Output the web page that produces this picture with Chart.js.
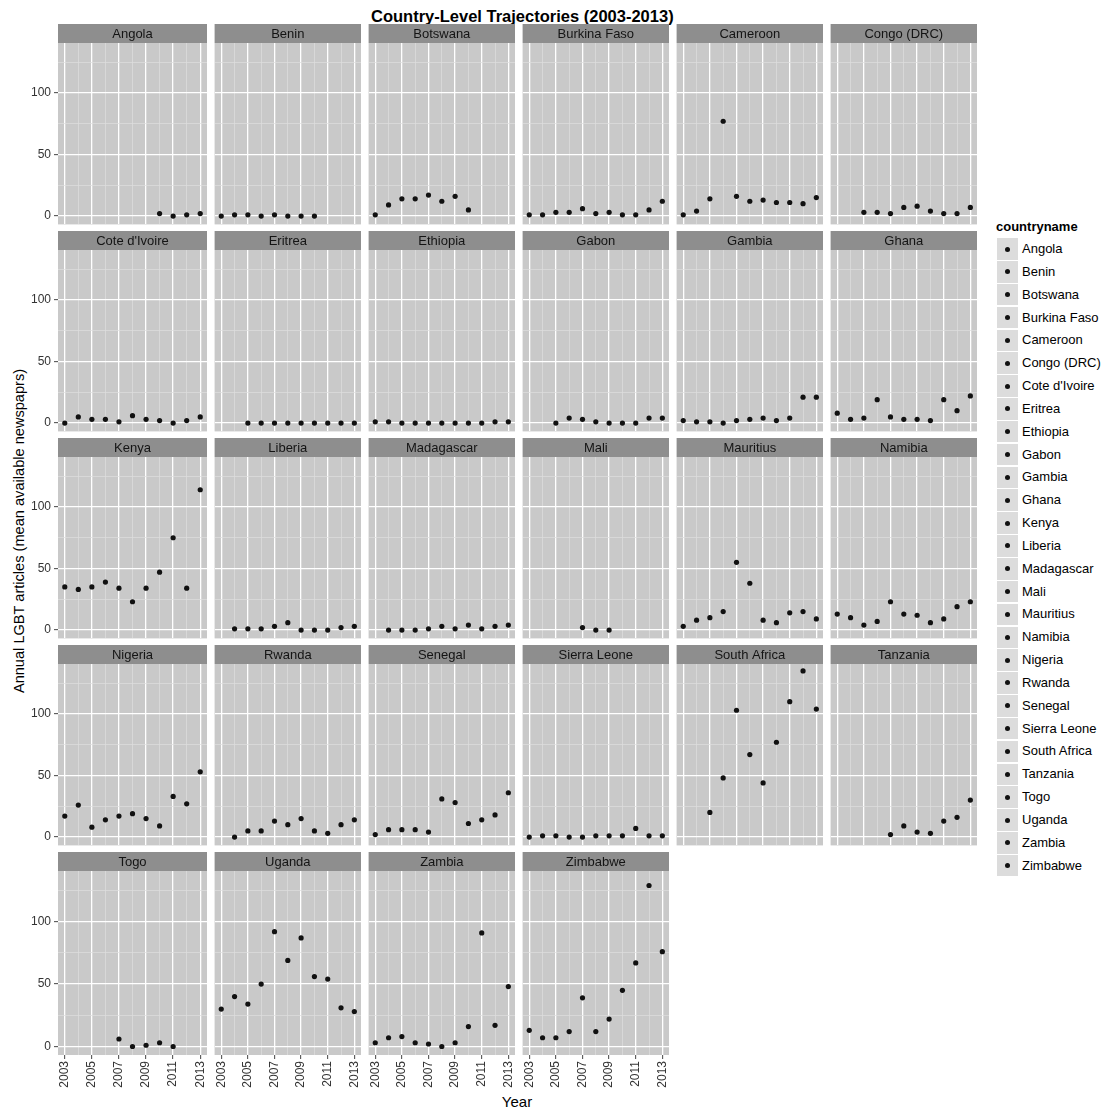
<!DOCTYPE html>
<html><head><meta charset="utf-8">
<script src="https://cdn.jsdelivr.net/npm/chart.js@4.4.0/dist/chart.umd.min.js"></script>
<style>
html,body{margin:0;padding:0;background:#fff;}
body{width:1105px;height:1110px;position:relative;overflow:hidden;font-family:"Liberation Sans",Arimo,Arial,sans-serif;color:#000;}
canvas.cv{position:absolute;}
#title{position:absolute;left:371px;width:300px;top:6px;line-height:20px;text-align:center;font-weight:bold;font-size:16.5px;white-space:nowrap;}
#ytitle{position:absolute;left:19px;top:531px;transform:translate(-50%,-50%) rotate(-90deg);white-space:nowrap;font-size:14.6px;line-height:18px;}
#xtitle{position:absolute;left:467px;width:100px;top:1092px;text-align:center;font-size:15px;line-height:20px;}
#legtitle{position:absolute;left:996px;top:219px;font-weight:bold;font-size:13px;line-height:16px;}
.lkey{position:absolute;left:997px;width:21px;height:21.5px;background:#dcdcdc;}
.ldot{position:absolute;left:8px;top:8.25px;width:5px;height:5px;border-radius:50%;background:#111;}
.llab{position:absolute;left:1022px;font-size:13px;line-height:16px;white-space:nowrap;}
</style>
</head><body>
<div id="title">Country-Level Trajectories (2003-2013)</div>
<div id="ytitle">Annual LGBT articles (mean available newspaprs)</div>
<div id="xtitle">Year</div>
<div id="legtitle">countryname</div>
<script>
// ---- data (years 2003..2013; null = no observation) ----
const years = [2003,2004,2005,2006,2007,2008,2009,2010,2011,2012,2013];
const xTickLabels = [2003,2005,2007,2009,2011,2013];
const yTickLabels = [0,50,100];
const countries = ["Angola","Benin","Botswana","Burkina Faso","Cameroon","Congo (DRC)",
  "Cote d'Ivoire","Eritrea","Ethiopia","Gabon","Gambia","Ghana",
  "Kenya","Liberia","Madagascar","Mali","Mauritius","Namibia",
  "Nigeria","Rwanda","Senegal","Sierra Leone","South Africa","Tanzania",
  "Togo","Uganda","Zambia","Zimbabwe"];
const angola      = [null,null,null,null,null,null,null,2,0,1,2];
const benin       = [0,1,1,0,1,0,0,0,null,null,null];
const botswana    = [1,9,14,14,17,12,16,5,null,null,null];
const burkinaFaso = [1,1,3,3,6,2,3,1,1,5,12];
const cameroon    = [1,4,14,77,16,12,13,11,11,10,15];
const congoDRC    = [null,null,3,3,2,7,8,4,2,2,7];
const coteDIvoire = [0,5,3,3,1,6,3,2,0,2,5];
const eritrea     = [null,null,0,0,0,0,0,0,0,0,0];
const ethiopia    = [1,1,0,0,0,0,0,0,0,1,1];
const gabon       = [null,null,0,4,3,1,0,0,0,4,4];
const gambia      = [2,1,1,0,2,3,4,2,4,21,21];
const ghana       = [8,3,4,19,5,3,3,2,19,10,22];
const kenya       = [35,33,35,39,34,23,34,47,75,34,114];
const liberia     = [null,1,1,1,3,6,0,0,0,2,3];
const madagascar  = [null,0,0,0,1,3,1,4,1,3,4];
const mali        = [null,null,null,null,2,0,0,null,null,null,null];
const mauritius   = [3,8,10,15,55,38,8,6,14,15,9];
const namibia     = [13,10,4,7,23,13,12,6,9,19,23];
const nigeria     = [17,26,8,14,17,19,15,9,33,27,53];
const rwanda      = [null,0,5,5,13,10,15,5,3,10,14];
const senegal     = [2,6,6,6,4,31,28,11,14,18,36];
const sierraLeone = [0,1,1,0,0,1,1,1,7,1,1];
const southAfrica = [null,null,20,48,103,67,44,77,110,135,104];
const tanzania    = [null,null,null,null,2,9,4,3,13,16,30];
const togo        = [null,null,null,null,6,0,1,3,0,null,null];
const uganda      = [30,40,34,50,92,69,87,56,54,31,28];
const zambia      = [3,7,8,3,2,0,3,16,91,17,48];
const zimbabwe    = [13,7,7,12,39,12,22,45,67,129,76];
const series = [angola,benin,botswana,burkinaFaso,cameroon,congoDRC,
  coteDIvoire,eritrea,ethiopia,gabon,gambia,ghana,
  kenya,liberia,madagascar,mali,mauritius,namibia,
  nigeria,rwanda,senegal,sierraLeone,southAfrica,tanzania,
  togo,uganda,zambia,zimbabwe];
const yMinorTicks = [25,75,125];

// ---- layout ----
const NCOL=6, NROW=5;
const PANEL_W=149, STRIP_H=19, PLOT_H=184, COL_STEP=154, ROW_STEP=207;
const LEFT0=58, TOP0=24, YAXIS_W=45, XAXIS_H=42, PAD_R=4;
const FONT = "'Liberation Sans', Arimo, Arial, sans-serif";
Chart.defaults.font.family = FONT;

const stripPlugin = {
  id:'strip',
  beforeDraw(chart, args, opts){
    const ctx = chart.ctx, a = chart.chartArea;
    ctx.save();
    ctx.fillStyle = '#c9c9c9';
    ctx.fillRect(a.left, a.top, a.right-a.left, a.bottom-a.top);
    ctx.fillStyle = '#8e8e8e';
    ctx.fillRect(a.left, a.top-STRIP_H, a.right-a.left, STRIP_H);
    ctx.fillStyle = '#141414';
    ctx.font = '13px ' + FONT;
    ctx.textAlign = 'center';
    ctx.textBaseline = 'middle';
    ctx.fillText(opts.label, (a.left+a.right)/2, a.top-STRIP_H/2+0.5);
    ctx.restore();
  }
};

function zeroPad(s){ s.paddingLeft=0; s.paddingRight=0; s.paddingTop=0; s.paddingBottom=0; }

countries.forEach((name, i) => {
  const r = Math.floor(i/NCOL), c = i%NCOL;
  const showY = (c===0), showX = (r===NROW-1);
  const cv = document.createElement('canvas');
  cv.className = 'cv';
  const w = PANEL_W + (showY?YAXIS_W:0) + PAD_R;
  const h = STRIP_H + PLOT_H + (showX?XAXIS_H:0);
  cv.width = w; cv.height = h;
  cv.style.width = w+'px'; cv.style.height = h+'px';
  cv.style.left = (LEFT0 + COL_STEP*c - (showY?YAXIS_W:0)) + 'px';
  cv.style.top = (TOP0 + ROW_STEP*r) + 'px';
  document.body.appendChild(cv);
  const vals = series[i];
  const pts = [];
  years.forEach((yr, k) => { if (vals[k] !== null) pts.push({x: yr, y: vals[k]}); });
  new Chart(cv, {
    type: 'scatter',
    data: { datasets: [{ data: pts, pointRadius: 2.6, pointHoverRadius: 2.6,
      backgroundColor: '#111', borderWidth: 0 }] },
    options: {
      responsive: false, animation: false, devicePixelRatio: 1,
      events: [],
      layout: { padding: { top: STRIP_H, right: PAD_R, left: 0, bottom: 0 } },
      plugins: { legend: {display:false}, tooltip: {enabled:false}, title:{display:false},
        strip: { label: name } },
      scales: {
        x: {
          type: 'linear', min: 2002.5, max: 2013.5,
          afterBuildTicks: s => { s.ticks = years.map(v => ({value: v})); },
          afterFit: s => { s.height = showX ? XAXIS_H : 0; zeroPad(s); },
          border: { display: false },
          grid: {
            drawTicks: showX, tickLength: 4,
            color: ctx => xTickLabels.includes(ctx.tick.value) ? '#ffffff' : '#dedede',
            lineWidth: ctx => xTickLabels.includes(ctx.tick.value) ? 1.3 : 0.7,
            tickColor: ctx => xTickLabels.includes(ctx.tick.value) ? '#444' : 'rgba(0,0,0,0)',
            tickWidth: 1
          },
          ticks: {
            display: showX, autoSkip: false, minRotation: 90, maxRotation: 90,
            padding: 2, color: '#333', font: { size: 12 },
            callback: v => xTickLabels.includes(v) ? String(v) : ''
          }
        },
        y: {
          type: 'linear', min: -6.8, max: 140.6,
          afterBuildTicks: s => { s.ticks = yTickLabels.concat(yMinorTicks).sort((a,b)=>a-b).map(v => ({value: v})); },
          afterFit: s => { s.width = showY ? YAXIS_W : 0; zeroPad(s); },
          border: { display: false },
          grid: {
            drawTicks: showY, tickLength: 4,
            color: ctx => yTickLabels.includes(ctx.tick.value) ? '#ffffff' : '#dedede',
            lineWidth: ctx => yTickLabels.includes(ctx.tick.value) ? 1.3 : 0.7,
            tickColor: ctx => yTickLabels.includes(ctx.tick.value) ? '#444' : 'rgba(0,0,0,0)',
            tickWidth: 1
          },
          ticks: {
            display: showY, autoSkip: false, padding: 3, color: '#333', font: { size: 12 },
            callback: v => yTickLabels.includes(v) ? String(v) : ''
          }
        }
      }
    },
    plugins: [stripPlugin]
  });
});

// ---- legend ----
const LEG_Y0 = 249, LEG_STEP = 22.84;
countries.forEach((name, i) => {
  const cy = LEG_Y0 + LEG_STEP*i;
  const key = document.createElement('div');
  key.className = 'lkey';
  key.style.top = (cy - 10.75) + 'px';
  const dot = document.createElement('div');
  dot.className = 'ldot';
  key.appendChild(dot);
  document.body.appendChild(key);
  const lab = document.createElement('div');
  lab.className = 'llab';
  lab.style.top = (cy - 8) + 'px';
  lab.textContent = name;
  document.body.appendChild(lab);
});
</script>
</body></html>
